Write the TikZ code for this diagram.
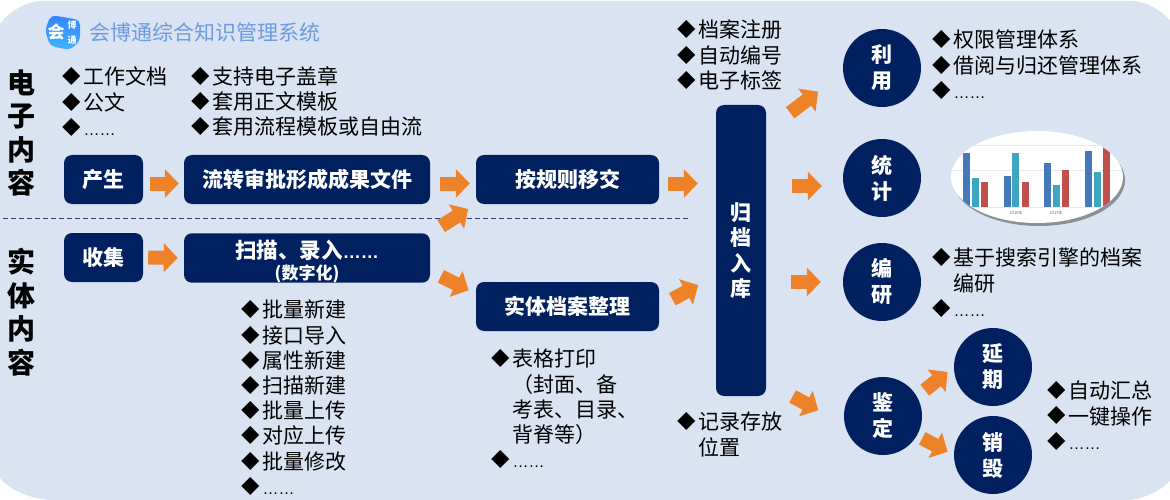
\documentclass[tikz,border=0pt]{standalone}
\usepackage{fontspec}
\setmainfont{Noto Sans CJK SC}
\newfontfamily\dotfont{Liberation Sans}
\usetikzlibrary{arrows.meta,shadows}

\definecolor{navy}{HTML}{002060}
\definecolor{panel}{HTML}{DAE3F1}
\definecolor{flowc}{HTML}{EE8228}
\definecolor{titlec}{HTML}{6B9BE3}
\definecolor{barblue}{HTML}{4678BE}
\definecolor{barteal}{HTML}{3FA5C0}
\definecolor{barred}{HTML}{C0504D}

\newcommand{\bitem}{\makebox[21.5pt][l]{\raisebox{1.1pt}{\fontsize{18.5}{18.5}\selectfont ◆}}}
\newcommand{\bhang}{\hspace*{21.5pt}}
\newcommand{\dotline}{{\dotfont\fontsize{16}{16}\selectfont ……}}

\tikzset{
    navybox/.style={draw=none,fill=navy,rounded corners=8pt,text=white,inner sep=0pt,
        font=\fontsize{21}{24}\selectfont\bfseries,align=center},
    navydisk/.style={circle,fill=navy,text=white,inner sep=0pt,minimum size=78pt,
        font=\fontsize{21}{26}\selectfont\bfseries,align=center},
    bulletlist/.style={inner sep=0pt,anchor=north west,align=left,text=black,
        font=\fontsize{21}{25.2}\selectfont},
    sidelabel/.style={inner sep=0pt,align=center,text=black,
        font=\fontsize{28}{33.5}\selectfont\bfseries},
    flow/.style={draw=flowc,line width=14pt,-{Triangle[length=14pt,width=28pt]}}
}

\begin{document}
\begin{tikzpicture}[x=1pt,y=-1pt]
    \useasboundingbox (0,0) rectangle (1170,500);
    \fill[panel] (0,24) .. controls (8,13) and (22,3) .. (40,1) -- (1135,1) .. controls (1150,3) and (1162,12) .. (1170,20) -- (1170,481) .. controls (1160,491) and (1146,498) .. (1130,500) -- (50,500) .. controls (28,498) and (10,490) .. (0,478) -- cycle;

    \shade[shading angle=200,top color=blue!60!cyan!80!white,bottom color=cyan!60!blue!75!white,rounded corners=5pt] (51,15) -- (80,20) -- (80,41) -- (70,50) -- (50,46) -- (45,30) -- cycle;
    \node[inner sep=0pt,text=white,font=\fontsize{17}{17}\selectfont\bfseries] (logoa) at (56,32) {会};
    \node[inner sep=0pt,text=white,font=\fontsize{9}{9}\selectfont\bfseries] (logob) at (72,25) {博};
    \node[inner sep=0pt,text=white,font=\fontsize{9}{9}\selectfont\bfseries] (logoc) at (72,40) {通};
    \node[inner sep=0pt,anchor=west,text=titlec,font=\fontsize{21}{24}\selectfont] (title) at (89,32) {会博通综合知识管理系统};

    \node[sidelabel] (dianzi) at (21,133) {电\\子\\内\\容};
    \node[sidelabel] (shiti) at (21,312) {实\\体\\内\\容};

    \coordinate (divleft) at (3,218);
    \coordinate (divright) at (688,218);
    \draw[navy!85!white,line width=.9pt,dash pattern=on 5pt off 3pt] (divleft) -- (divright);

    \node[navybox,minimum width=79pt,minimum height=49pt] (chansheng) at (103.5,179.5) {产生};
    \node[navybox,minimum width=246pt,minimum height=49pt] (liuzhuan) at (307,179.5) {流转审批形成成果文件};
    \node[navybox,minimum width=183pt,minimum height=49pt] (yijiao) at (567.5,179.5) {按规则移交};
    \node[navybox,minimum width=79pt,minimum height=49pt] (shouji) at (103.5,257.5) {收集};
    \node[navybox,minimum width=246pt,minimum height=48pt] (saomiao) at (307,258) {\rule{0pt}{25pt}\fontsize{21.5}{21.5}\selectfont 扫描、录入{\dotfont\bfseries\fontsize{18}{18}\selectfont ……}\\[-3pt]{\fontsize{17}{17}\selectfont (数字化)}};
    \node[navybox,minimum width=183pt,minimum height=49pt] (zhengli) at (567.5,306.5) {实体档案整理};
    \node[navybox,minimum width=50pt,minimum height=291pt,font=\fontsize{21}{25.4}\selectfont\bfseries] (guidang) at (741,250.5) {归\\档\\入\\库};

    \node[navydisk] (liyong) at (882,68) {利\\用};
    \node[navydisk] (tongji) at (882,178) {统\\计};
    \node[navydisk] (bianyan) at (882,282) {编\\研};
    \node[navydisk] (jianding) at (883,416) {鉴\\定};
    \node[navydisk] (yanqi) at (993,367) {延\\期};
    \node[navydisk] (xiaohui) at (993,455) {销\\毁};

    \draw[flow,shorten <=7pt,shorten >=5pt] ([yshift=-4pt]chansheng.east) -- ([yshift=-4pt]liuzhuan.west);
    \draw[flow,shorten <=10pt,shorten >=6pt] ([yshift=-4pt]liuzhuan.east) -- ([yshift=-4pt]yijiao.west);
    \draw[flow,shorten <=9pt,shorten >=18pt] ([yshift=-4pt]yijiao.east) -- ([yshift=-4pt]guidang.west |- yijiao.east);
    \draw[flow,shorten <=5pt,shorten >=6pt] (shouji.east) -- (saomiao.west);
    \draw[flow,shorten <=13pt,shorten >=9pt] (saomiao.north east) -- (yijiao.south west);
    \draw[flow,shorten <=12pt,shorten >=8pt] ([yshift=12pt]saomiao.south east) -- ([yshift=-12pt]zhengli.north west);
    \draw[flow,shorten <=15pt,shorten >=20pt] (zhengli.east) -- ([yshift=-25pt]guidang.west);
    \draw[flow,shorten <=30pt,shorten >=31pt] ([yshift=-26pt]guidang.north east) -- ([yshift=-5pt]liyong.west);
    \draw[flow,shorten <=26pt,shorten >=21pt] ([yshift=-8pt]guidang.east |- tongji.west) -- ([yshift=-8pt]tongji.west);
    \draw[flow,shorten <=25pt,shorten >=22pt] (guidang.east |- bianyan.west) -- (bianyan.west);
    \draw[flow,shorten <=30pt,shorten >=29pt] ([yshift=14pt]guidang.south east) -- ([yshift=-8pt]jianding.west);
    \draw[flow,shorten <=10pt,shorten >=8pt] (jianding.30) -- (yanqi.west);
    \draw[flow,shorten <=6pt,shorten >=7pt] (jianding.-30) -- (xiaohui.west);

    \node[bulletlist] (wendang) at (62,67) {\bitem 工作文档\\\bitem 公文\\\bitem \dotline};
    \node[bulletlist] (gaizhang) at (191,66) {\bitem 支持电子盖章\\\bitem 套用正文模板\\\bitem 套用流程模板或自由流};
    \node[bulletlist] (piliang) at (241,300) {\bitem 批量新建\\\bitem 接口导入\\\bitem 属性新建\\\bitem 扫描新建\\\bitem 批量上传\\\bitem 对应上传\\\bitem 批量修改\\\bitem \dotline};
    \node[bulletlist] (biaoge) at (491,349) {\bitem 表格打印\\\bhang （封面、备\\\bhang 考表、目录、\\\bhang 背脊等）\\\bitem \dotline};
    \node[bulletlist] (jilu) at (677,412) {\bitem 记录存放\\\bhang 位置};
    \node[bulletlist] (zhuce) at (677,20) {\bitem 档案注册\\\bitem 自动编号\\\bitem 电子标签};
    \node[bulletlist] (quanxian) at (932,30) {\bitem 权限管理体系\\\bitem 借阅与归还管理体系\\\bitem \dotline};
    \node[bulletlist] (sousuo) at (932,248) {\bitem 基于搜索引擎的档案\\\bhang 编研\\\bitem \dotline};
    \node[bulletlist] (huizong) at (1047,381) {\bitem 自动汇总\\\bitem 一键操作\\\bitem \dotline};

    \fill[white,drop shadow={shadow xshift=2pt,shadow yshift=-3pt,opacity=.55,fill=black!70}] (1037,177) ellipse (86pt and 46pt);
    \begin{scope}
        \clip (1037,177) ellipse (86pt and 46pt);
        \draw[black!8] (950,145) -- (1125,145);
        \draw[black!8] (950,170) -- (1125,170);
        \draw[black!8] (950,207) -- (1125,207);
        \fill[barblue] (963.3,153) rectangle (970.3,207);
        \fill[barteal] (972,178) rectangle (979,207);
        \fill[barred] (981,182) rectangle (988,207);
        \fill[barblue] (1003.7,176) rectangle (1010.7,207);
        \fill[barteal] (1012,153) rectangle (1019,207);
        \fill[barred] (1021.7,182) rectangle (1028.5,207);
        \fill[barblue] (1044,163) rectangle (1051,207);
        \fill[barteal] (1053,185) rectangle (1060,207);
        \fill[barred] (1062,170) rectangle (1069,207);
        \fill[barblue] (1085,151) rectangle (1092,207);
        \fill[barteal] (1094,172) rectangle (1101,207);
        \fill[barred] (1103,146) rectangle (1110,207);
    \end{scope}
    \node[inner sep=0pt,text=black!60,font=\fontsize{4}{4}\selectfont] (yeara) at (1016,213) {2016年};
    \node[inner sep=0pt,text=black!60,font=\fontsize{4}{4}\selectfont] (yearb) at (1056,213) {2017年};
\end{tikzpicture}
\end{document}
